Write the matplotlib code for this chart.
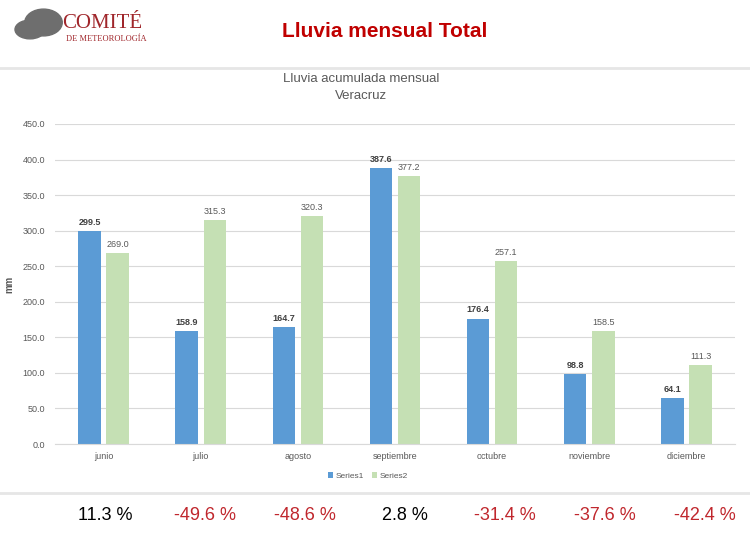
import matplotlib.pyplot as plt
import numpy as np
from matplotlib.patches import Ellipse

months = ["junio", "julio", "agosto", "septiembre", "octubre", "noviembre", "diciembre"]
series1 = [299.5, 158.9, 164.7, 387.6, 176.4, 98.8, 64.1]
series2 = [269.0, 315.3, 320.3, 377.2, 257.1, 158.5, 111.3]
pct_change = [11.3, -49.6, -48.6, 2.8, -31.4, -37.6, -42.4]

blue = "#5B9BD5"
green = "#C5E0B4"
txt = "#595959"

plt.rcParams["font.family"] = ["Liberation Sans", "DejaVu Sans"]

fig = plt.figure(figsize=(7.5, 5.36), dpi=100)
ax = fig.add_axes([0.0733, 0.1716, 0.9067, 0.5971])

x = np.arange(len(months))
w = 0.23
off = 0.145
b1 = ax.bar(x - off, series1, w, color=blue, label="Series1")
b2 = ax.bar(x + off, series2, w, color=green, label="Series2")
ax.bar_label(b1, labels=[f"{v:.1f}" for v in series1], padding=3,
             fontsize=6.5, fontweight="bold", color="#404040")
ax.bar_label(b2, labels=[f"{v:.1f}" for v in series2], padding=3,
             fontsize=6.5, color=txt)

ax.set_xlim(-0.5, len(months) - 0.5)
ax.set_ylim(0, 450)
ax.set_yticks(np.arange(0, 451, 50))
ax.set_yticklabels([f"{v:.1f}" for v in np.arange(0, 451, 50)])
ax.set_xticks(x)
ax.set_xticklabels(months)
ax.tick_params(axis="both", length=0, labelsize=6.5, colors=txt)
ax.tick_params(axis="y", pad=7)
ax.tick_params(axis="x", pad=6)
ax.grid(axis="y", color="#D9D9D9", linewidth=0.8)
ax.set_axisbelow(True)
for s in ["top", "right", "left"]:
    ax.spines[s].set_visible(False)
ax.spines["bottom"].set_color("#D9D9D9")
ax.set_ylabel("mm", fontsize=7, fontweight="bold", color=txt)
ax.yaxis.set_label_coords(-0.06, 0.5)
ax.set_title("Lluvia acumulada mensual\nVeracruz", fontsize=9.5, color=txt,
             pad=18, linespacing=1.6, x=0.45)
ax.legend(loc="upper center", bbox_to_anchor=(0.46, -0.065), ncol=2, frameon=False,
          fontsize=6, handlelength=0.6, handleheight=0.6, columnspacing=1.0,
          handletextpad=0.3, labelcolor=txt)

# header
fig.text(0.513, 0.942, "Lluvia mensual Total", fontsize=15, fontweight="bold",
         color="#C00000", ha="center", va="center")
fig.add_artist(Ellipse((0.058, 0.958), 0.05, 0.05, color="#6E6E6E", transform=fig.transFigure))
fig.add_artist(Ellipse((0.04, 0.945), 0.04, 0.035, color="#6E6E6E", transform=fig.transFigure))
fig.text(0.083, 0.957, "COMITÉ", fontsize=15, color="#A0262B", family="Liberation Serif",
         ha="left", va="center")
fig.text(0.088, 0.927, "DE METEOROLOGÍA", fontsize=6, color="#A0262B",
         family="Liberation Serif", ha="left", va="center")

# separators
fig.add_artist(plt.Line2D([0, 1], [0.873, 0.873], color="#E6E6E6", linewidth=2))
fig.add_artist(plt.Line2D([0, 1], [0.081, 0.081], color="#E6E6E6", linewidth=2))

# percent change row
for i, p in enumerate(pct_change):
    col = "black" if p >= 0 else "#C0272D"
    fig.text(0.14 + i * 0.1333, 0.039, f"{p:.1f} %", fontsize=13, color=col,
             ha="center", va="center")

fig.savefig("out.png", dpi=100)
